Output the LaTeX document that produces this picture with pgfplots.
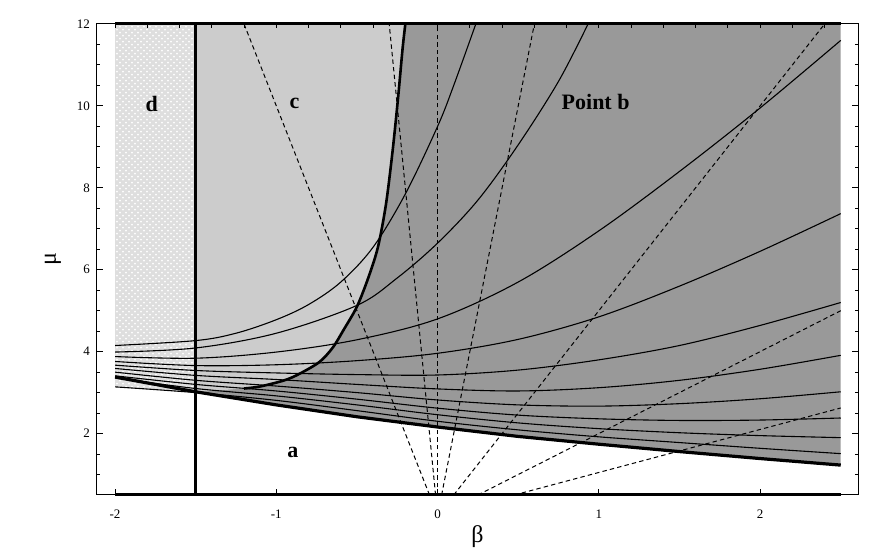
\documentclass[border=0pt]{standalone}
\usepackage{fontspec}
\setmainfont{Liberation Serif}
\usepackage{pgfplots}
\pgfplotsset{compat=1.18}
\usetikzlibrary{patterns}

\begin{document}
\begin{tikzpicture}
\begin{axis}[
  name=main,
  scale only axis,
  width=380.5pt, height=235.5pt,
  xmin=-2.112, xmax=2.607,
  ymin=0.5, ymax=12,
  axis on top,
  clip=false,
  axis line style={line width=0.5pt},
  xtick={-2,-1,0,1,2},
  xtick pos=left,
  ytick={2,4,6,8,10,12},
  minor ytick={0.5,1,1.5,2.5,3,3.5,4.5,5,5.5,6.5,7,7.5,8.5,9,9.5,10.5,11,11.5},
  ytick pos=both,
  tick align=inside,
  major tick length=3pt, minor tick length=1.6pt,
  tick style={black, line width=0.5pt},
  /pgf/number format/assume math mode=true,
  ticklabel style={font=\fontsize{6.5}{7}\selectfont},
  xticklabel style={yshift=-4pt},
  xlabel={β}, ylabel={μ},
  label style={font=\fontsize{12}{14}\selectfont},
  xlabel style={at={(axis description cs:0.5,0)}, anchor=center, yshift=-21pt},
  ylabel style={at={(axis description cs:0,0.5)}, anchor=center, yshift=22pt},
  thin curve/.style={black, line width=0.55pt, smooth, tension=0.55},
  ray/.style={black, line width=0.5pt, dash pattern=on 2.2pt off 1.6pt},
]

% region b (dark)
\addplot[draw=none, fill=black!40] coordinates {
  (-1.5,3.02) (-1,2.70) (-0.5,2.41) (0,2.16) (0.5,1.93) (1,1.74)
  (1.5,1.56) (2,1.39) (2.5,1.23) (2.5,12) (-1.5,12)
} --cycle;
% region c (light)
\addplot[draw=none, fill=black!20] coordinates {
  (-1.5,3.02) (-1.3,3.07) (-1.1,3.15) (-0.95,3.3) (-0.856,3.46) (-0.732,3.75)
  (-0.65,4.1) (-0.58,4.55) (-0.5,5.1) (-0.43,5.8) (-0.37,6.55) (-0.32,7.6)
  (-0.279,8.9) (-0.245,10.2) (-0.217,11.4) (-0.2,12) (-1.5,12)
} --cycle;
% region d (stippled)
\addplot[draw=none, fill=black!13, postaction={pattern=crosshatch dots, pattern color=white}] coordinates {
  (-2,3.14) (-1.5,3.0) (-1.5,12) (-2,12)
} --cycle;

% solid family
\addplot[thin curve] coordinates {
  (-2,4.15) (-1.5,4.27) (-1.25,4.45) (-1,4.78) (-0.8,5.15) (-0.6,5.7)
  (-0.4,6.55) (-0.2,7.85) (0,9.5) (0.1,10.5) (0.237,12)};
\addplot[thin curve] coordinates {
  (-2,3.99) (-1.5,4.09) (-1,4.45) (-0.5,5.13) (-0.25,5.8) (0,6.65)
  (0.25,7.7) (0.5,9.05) (0.75,10.6) (0.933,12)};
\addplot[thin curve] coordinates {
  (-2,3.88) (-1.5,3.84) (-1,3.99) (-0.5,4.29) (0,4.8) (0.5,5.7)
  (1,6.95) (1.5,8.4) (2,9.95) (2.5,11.6)};
\addplot[thin curve] coordinates {
  (-2,3.76) (-1.5,3.66) (-1,3.68) (-0.5,3.78) (0,3.96) (0.5,4.3)
  (1,4.85) (1.5,5.6) (2,6.45) (2.5,7.37)};
\addplot[thin curve] coordinates {
  (-2,3.67) (-1.5,3.54) (-1,3.48) (-0.5,3.44) (0,3.43) (0.5,3.55)
  (1,3.8) (1.5,4.15) (2,4.64) (2.5,5.2)};
\addplot[thin curve] coordinates {
  (-2,3.59) (-1.5,3.42) (-1,3.32) (-0.5,3.2) (0,3.09) (0.5,3.04)
  (1,3.12) (1.5,3.3) (2,3.57) (2.5,3.91)};
\addplot[thin curve] coordinates {
  (-2,3.5) (-1.5,3.3) (-1,3.16) (-0.5,3.0) (0,2.82) (0.5,2.7)
  (1,2.67) (1.5,2.73) (2,2.85) (2.5,3.02)};
\addplot[thin curve] coordinates {
  (-2,3.41) (-1.5,3.2) (-1,3.04) (-0.5,2.84) (0,2.62) (0.5,2.45)
  (1,2.36) (1.5,2.32) (2,2.33) (2.5,2.38)};
\addplot[thin curve] coordinates {
  (-2,3.36) (-1.5,3.1) (-1,2.92) (-0.5,2.7) (0,2.46) (0.5,2.26)
  (1,2.12) (1.5,2.02) (2,1.95) (2.5,1.9)};
\addplot[thin curve] coordinates {
  (-2,3.14) (-1.5,3.0) (-1,2.81) (-0.5,2.56) (0,2.3) (0.5,2.09)
  (1,1.92) (1.5,1.78) (2,1.64) (2.5,1.51)};

% dashed rays
\addplot[ray] coordinates {(-0.05,0.5) (-1.2,12)};
\addplot[ray] coordinates {(-0.0125,0.5) (-0.3,12)};
\addplot[ray] coordinates {(0,0.5) (0,12)};
\addplot[ray] coordinates {(0.025,0.5) (0.6,12)};
\addplot[ray] coordinates {(0.1,0.5) (2.4,12)};
\addplot[ray] coordinates {(0.25,0.5) (2.5,5)};
\addplot[ray] coordinates {(0.476,0.5) (2.5,2.625)};

% thick boundaries
\addplot[black, line width=1.6pt] coordinates {
  (-2,3.38) (-1.5,3.02) (-1,2.70) (-0.5,2.41) (0,2.16) (0.5,1.93) (1,1.74)
  (1.5,1.56) (2,1.39) (2.5,1.23)};
\addplot[black, line width=1.3pt, smooth, tension=0.5] coordinates {
  (-1.2,3.1) (-1.1,3.15) (-0.95,3.3) (-0.856,3.46) (-0.732,3.75)
  (-0.65,4.1) (-0.58,4.55) (-0.5,5.1) (-0.43,5.8) (-0.37,6.55) (-0.32,7.6)
  (-0.279,8.9) (-0.245,10.2) (-0.217,11.4) (-0.2,12)};
\addplot[black, line width=1.5pt] coordinates {(-1.5,0.5) (-1.5,12)};
\addplot[black, line width=1.5pt] coordinates {(-2,12) (2.5,12)};
\addplot[black, line width=1.5pt] coordinates {(-2,0.5) (2.5,0.5)};

\node[font=\bfseries\fontsize{11}{12}\selectfont] at (axis cs:-1.773,10.05) {d};
\node[font=\bfseries\fontsize{11}{12}\selectfont] at (axis cs:-0.887,10.05) {c};
\node[font=\bfseries\fontsize{11}{12}\selectfont] at (axis cs:0.98,10.1) {Point b};
\node[font=\bfseries\fontsize{11}{12}\selectfont] at (axis cs:-0.897,1.55) {a};
\end{axis}

% top minor ticks every 0.2
\begin{axis}[
  scale only axis,
  width=380.5pt, height=235.5pt,
  xmin=-2.112, xmax=2.607,
  ymin=0.5, ymax=12,
  axis x line*=top, axis y line=none,
  axis line style={draw=none},
  xtick={-2,-1.8,-1.6,-1.4,-1.2,-1,-0.8,-0.6,-0.4,-0.2,0,0.2,0.4,0.6,0.8,1,1.2,1.4,1.6,1.8,2,2.2,2.4},
  xticklabels={},
  tick align=inside,
  major tick length=2pt,
  tick style={black, line width=0.5pt},
]
\end{axis}

\path (main.south west) ++(-48.5pt,-29.5pt) coordinate (bbll);
\path (main.north east) ++(9pt,12pt) coordinate (bbur);
\path (bbll) rectangle (bbur);
\end{tikzpicture}
\end{document}
